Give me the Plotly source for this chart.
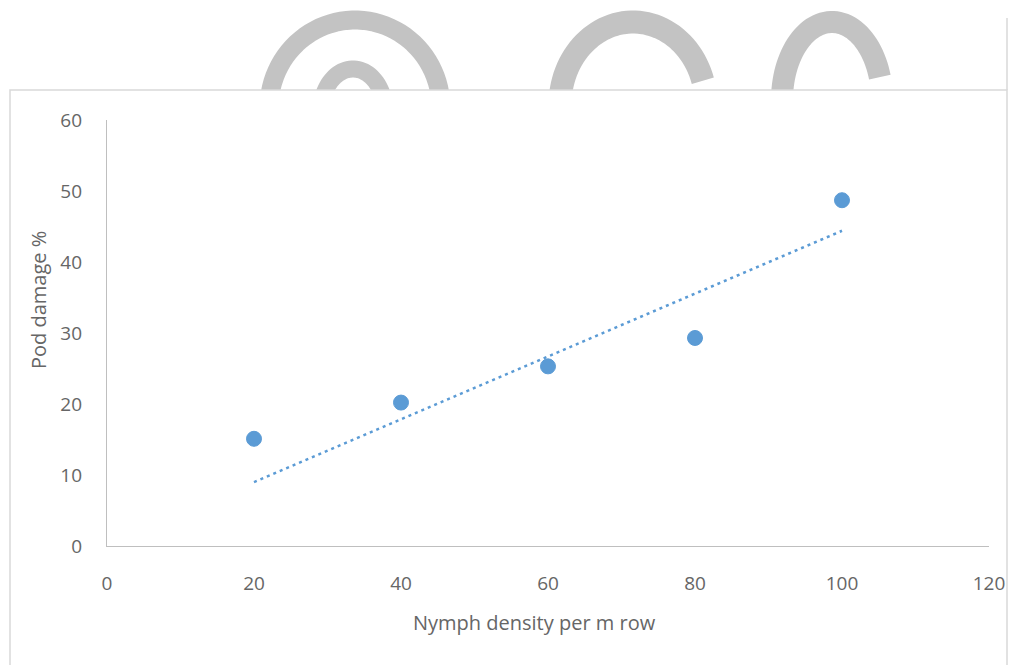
import numpy as np
import plotly.graph_objects as go

# ---- data ----
nymph_density = [20, 40, 60, 80, 100]
pod_damage = [15.1, 20.2, 25.3, 29.3, 48.7]
trend_x = [20, 100]
trend_y = [9.0, 44.4]
x_ticks = [0, 20, 40, 60, 80, 100, 120]
y_ticks = [0, 10, 20, 30, 40, 50, 60]

W, H = 1010, 665
L, R, T, B = 107, 21, 120, 119
PW, PH = W - L - R, H - T - B

blue = "#5B9BD5"
gray_txt = "#666666"
font = "Open Sans"

fig = go.Figure()
fig.add_trace(go.Scatter(
    x=trend_x, y=trend_y, mode="lines",
    line=dict(color=blue, width=2.5, dash="3px,4px"),
    hoverinfo="skip", showlegend=False))
fig.add_trace(go.Scatter(
    x=nymph_density, y=pod_damage, mode="markers",
    marker=dict(color=blue, size=15, line=dict(color=blue, width=1)),
    showlegend=False))

fig.update_layout(
    width=W, height=H,
    margin=dict(l=L, r=R, t=T, b=B, autoexpand=False),
    paper_bgcolor="white", plot_bgcolor="rgba(0,0,0,0)",
    xaxis=dict(range=[0, 120], tickvals=x_ticks, showgrid=False, zeroline=False,
               showline=True, linecolor="#BFBFBF", linewidth=1.2,
               ticks="", ticklabelstandoff=20, automargin=False,
               tickfont=dict(family=font, size=19, color=gray_txt)),
    yaxis=dict(range=[0, 60], tickvals=y_ticks, showgrid=False, zeroline=False,
               showline=True, linecolor="#BFBFBF", linewidth=1.2,
               ticks="", ticklabelstandoff=20, automargin=False,
               tickfont=dict(family=font, size=19, color=gray_txt)),
)

# pixel -> paper helpers (use the actual plot area)
def px(x):
    return (x - L) / PW

def py(y):
    return (H - B - y) / PH

# watermark arcs (decoration)
def arc_path(cx, cy, rx, ry, t0, t1, n=60):
    th = np.radians(np.linspace(t0, t1, n))
    xs = cx + rx * np.cos(th)
    ys = cy - ry * np.sin(th)
    pts = [f"{px(a):.5f},{py(b):.5f}" for a, b in zip(xs, ys)]
    return "M" + " L".join(pts)

wm = "#C3C3C3"
shapes = []
for cx, cy, rx, ry, t0, t1, w in [
    (355, 108, 86, 88, 200, -20, 19),
    (353, 112, 32, 43, 200, -20, 17),
    (633, 105, 73, 83, 200, 17, 23),
    (832, 100, 50, 78, 200, 17, 22),
]:
    shapes.append(dict(type="path", xref="paper", yref="paper",
                       path=arc_path(cx, cy, rx, ry, t0, t1),
                       line=dict(color=wm, width=w), layer="below"))
shapes.append(dict(type="rect", xref="paper", yref="paper",
                   x0=px(10), x1=px(1007), y0=py(90), y1=py(700),
                   fillcolor="white", line=dict(color="#D9D9D9", width=1.5),
                   layer="below"))
shapes.append(dict(type="line", xref="paper", yref="paper",
                   x0=px(1007), x1=px(1007), y0=py(18), y1=py(90),
                   line=dict(color="#D9D9D9", width=1.5), layer="below"))

fig.update_layout(
    shapes=shapes,
    annotations=[
        dict(text="Nymph density per m row", xref="paper", yref="paper",
             x=px(534), y=py(622), xanchor="center", yanchor="middle",
             showarrow=False,
             font=dict(family=font, size=20, color=gray_txt)),
        dict(text="Pod damage %", xref="paper", yref="paper",
             x=px(38), y=py(300), xanchor="center", yanchor="middle",
             showarrow=False, textangle=-90,
             font=dict(family=font, size=20, color=gray_txt)),
    ],
)

fig.write_html("out.html", config={"displayModeBar": False},
               post_script="document.body.style.margin='0';document.body.style.overflow='hidden';")
